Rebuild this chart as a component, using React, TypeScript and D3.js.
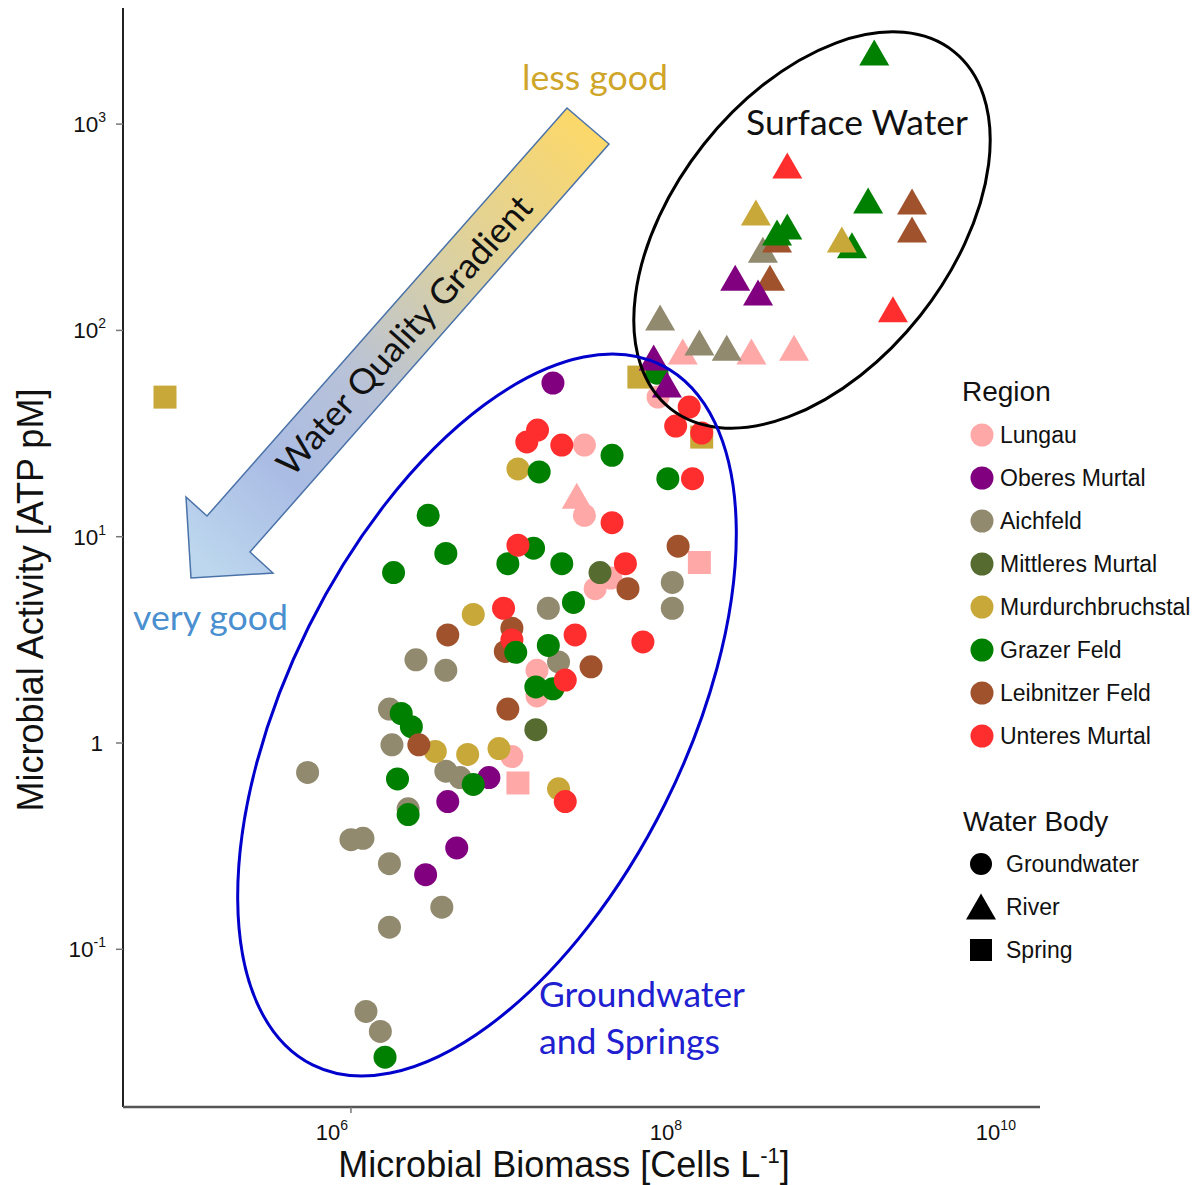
import React from 'react';
import * as d3 from 'd3';

// regions and their colours (legend order)
const regions = [
  'Lungau',
  'Oberes Murtal',
  'Aichfeld',
  'Mittleres Murtal',
  'Murdurchbruchstal',
  'Grazer Feld',
  'Leibnitzer Feld',
  'Unteres Murtal',
];
const regionColors = ['#FFA8A8', '#800080', '#918A6F', '#556B2F', '#C9A83A', '#008000', '#A0522D', '#FF2E2E'];
const waterBodies = ['Groundwater', 'River', 'Spring'];

// [region, biomass (cells/L), ATP (pM)]
const springs: [string, number, number][] = [
  ['Murdurchbruchstal', 7.7e4, 47.5],
  ['Murdurchbruchstal', 5.3e7, 59.4],
  ['Murdurchbruchstal', 1.26e8, 30.4],
  ['Lungau', 1.22e8, 7.5],
  ['Lungau', 1.0e7, 0.64],
];

const groundwater: [string, number, number][] = [
  ['Lungau', 6.9e7, 47.5],
  ['Lungau', 2.5e7, 27.8],
  ['Lungau', 2.5e7, 12.7],
  ['Lungau', 3.6e7, 6.3],
  ['Lungau', 2.9e7, 5.6],
  ['Lungau', 1.3e7, 2.25],
  ['Lungau', 1.3e7, 1.69],
  ['Lungau', 9.2e6, 0.86],
  ['Oberes Murtal', 1.62e7, 55.6],
  ['Oberes Murtal', 6.7e6, 0.68],
  ['Oberes Murtal', 3.8e6, 0.52],
  ['Oberes Murtal', 4.3e6, 0.31],
  ['Oberes Murtal', 2.8e6, 0.23],
  ['Aichfeld', 8.4e7, 6.0],
  ['Aichfeld', 8.4e7, 4.5],
  ['Aichfeld', 1.52e7, 4.5],
  ['Aichfeld', 1.75e7, 2.47],
  ['Aichfeld', 2.45e6, 2.53],
  ['Aichfeld', 3.7e6, 2.25],
  ['Aichfeld', 1.7e6, 1.46],
  ['Aichfeld', 1.76e6, 0.98],
  ['Aichfeld', 5.5e5, 0.72],
  ['Aichfeld', 3.7e6, 0.73],
  ['Aichfeld', 4.5e6, 0.68],
  ['Aichfeld', 2.2e6, 0.48],
  ['Aichfeld', 1.0e6, 0.34],
  ['Aichfeld', 1.18e6, 0.345],
  ['Aichfeld', 1.7e6, 0.26],
  ['Aichfeld', 3.5e6, 0.16],
  ['Aichfeld', 1.7e6, 0.128],
  ['Aichfeld', 1.23e6, 0.05],
  ['Aichfeld', 1.5e6, 0.04],
  ['Mittleres Murtal', 3.1e7, 6.7],
  ['Mittleres Murtal', 1.28e7, 1.16],
  ['Murdurchbruchstal', 1.0e7, 21.3],
  ['Murdurchbruchstal', 5.4e6, 4.2],
  ['Murdurchbruchstal', 3.2e6, 0.91],
  ['Murdurchbruchstal', 5.0e6, 0.88],
  ['Murdurchbruchstal', 7.7e6, 0.94],
  ['Murdurchbruchstal', 1.75e7, 0.6],
  ['Grazer Feld', 6.8e7, 62],
  ['Grazer Feld', 3.66e7, 24.8],
  ['Grazer Feld', 1.34e7, 20.6],
  ['Grazer Feld', 7.9e7, 19.1],
  ['Grazer Feld', 2.9e6, 12.7],
  ['Grazer Feld', 3.7e6, 8.3],
  ['Grazer Feld', 1.8e6, 6.7],
  ['Grazer Feld', 1.24e7, 8.8],
  ['Grazer Feld', 8.7e6, 7.4],
  ['Grazer Feld', 1.83e7, 7.4],
  ['Grazer Feld', 2.15e7, 4.8],
  ['Grazer Feld', 1.52e7, 2.97],
  ['Grazer Feld', 1.28e7, 1.87],
  ['Grazer Feld', 1.62e7, 1.83],
  ['Grazer Feld', 2.0e6, 1.39],
  ['Grazer Feld', 2.3e6, 1.2],
  ['Grazer Feld', 1.9e6, 0.67],
  ['Grazer Feld', 5.4e6, 0.63],
  ['Grazer Feld', 2.2e6, 0.45],
  ['Grazer Feld', 1.6e6, 0.03],
  ['Leibnitzer Feld', 9.1e7, 9.0],
  ['Leibnitzer Feld', 4.56e7, 5.6],
  ['Leibnitzer Feld', 3.8e6, 3.34],
  ['Leibnitzer Feld', 9.2e6, 3.6],
  ['Leibnitzer Feld', 8.4e6, 2.78],
  ['Leibnitzer Feld', 2.74e7, 2.34],
  ['Leibnitzer Feld', 8.7e6, 1.46],
  ['Leibnitzer Feld', 2.55e6, 0.98],
  ['Unteres Murtal', 1.06e8, 42.5],
  ['Unteres Murtal', 8.8e7, 34.4],
  ['Unteres Murtal', 1.26e8, 31.8],
  ['Unteres Murtal', 1.31e7, 32.9],
  ['Unteres Murtal', 1.13e7, 28.8],
  ['Unteres Murtal', 1.83e7, 27.8],
  ['Unteres Murtal', 1.11e8, 19.1],
  ['Unteres Murtal', 3.66e7, 11.7],
  ['Unteres Murtal', 1.0e7, 9.1],
  ['Unteres Murtal', 4.4e7, 7.4],
  ['Unteres Murtal', 5.6e7, 3.09],
  ['Unteres Murtal', 8.2e6, 4.5],
  ['Unteres Murtal', 9.2e6, 3.16],
  ['Unteres Murtal', 2.2e7, 3.34],
  ['Unteres Murtal', 1.92e7, 2.02],
  ['Unteres Murtal', 1.92e7, 0.52],
  ['Grazer Feld', 9.7e6, 2.75],
];

const rivers: [string, number, number][] = [
  ['Lungau', 9.7e7, 78.6],
  ['Lungau', 2.5e8, 78.6],
  ['Lungau', 4.5e8, 82],
  ['Lungau', 2.25e7, 15.7],
  ['Aichfeld', 2.93e8, 245],
  ['Aichfeld', 7.1e7, 115],
  ['Aichfeld', 1.22e8, 87],
  ['Aichfeld', 1.78e8, 82],
  ['Murdurchbruchstal', 2.66e8, 371],
  ['Leibnitzer Feld', 2.29e9, 419],
  ['Leibnitzer Feld', 2.29e9, 307],
  ['Leibnitzer Feld', 3.56e8, 274],
  ['Leibnitzer Feld', 3.23e8, 179],
  ['Grazer Feld', 1.36e9, 2210],
  ['Grazer Feld', 1.25e9, 424],
  ['Grazer Feld', 4.1e8, 317],
  ['Grazer Feld', 3.56e8, 297],
  ['Grazer Feld', 1.0e9, 257],
  ['Murdurchbruchstal', 8.7e8, 274],
  ['Oberes Murtal', 2.0e8, 179],
  ['Oberes Murtal', 2.74e8, 152],
  ['Oberes Murtal', 6.5e7, 73.5],
  ['Oberes Murtal', 7.8e7, 54.4],
  ['Unteres Murtal', 4.1e8, 627],
  ['Unteres Murtal', 1.76e9, 126],
];

const xDomain = [4.315e4, 1.337e10];
const yDomain = [0.0172, 3655];
const xTicks = [1e6, 1e8, 1e10];
const xTickLabels = [['10', '6'], ['10', '8'], ['10', '10']];
const yTicks = [0.1, 1, 10, 100, 1000];
const yTickLabels = [['10', '-1'], ['1', ''], ['10', '1'], ['10', '2'], ['10', '3']];

const sans = '"Liberation Sans", Arial, sans-serif';
const calibri = 'Lato, "Open Sans", sans-serif';

const tri = (cx: number, cy: number, w = 30, h = 26) =>
  `M${cx},${cy - h / 2 - 0.5}L${cx + w / 2},${cy + h / 2 - 0.5}L${cx - w / 2},${cy + h / 2 - 0.5}Z`;

export default function App() {
  const left = 123, right = 1040, top = 8, bottom = 1107;
  const x = d3.scaleLog().domain(xDomain).range([left, right]);
  const y = d3.scaleLog().domain(yDomain).range([bottom, top]);
  const color = d3.scaleOrdinal<string, string>().domain(regions).range(regionColors);

  return (
    <svg width={1202} height={1185} style={{ position: 'absolute', left: 0, top: 0, background: '#fff' }}>
      <defs>
        <linearGradient id="arrowGrad" gradientUnits="userSpaceOnUse" x1="600" y1="120" x2="200" y2="560">
          <stop offset="0" stopColor="#FFD966" />
          <stop offset="0.35" stopColor="#DAD0A2" />
          <stop offset="0.6" stopColor="#B8C2D8" />
          <stop offset="0.8" stopColor="#AABCE4" />
          <stop offset="1" stopColor="#BDD7EE" />
        </linearGradient>
      </defs>

      {/* axes */}
      <line x1={left} x2={left} y1={top} y2={bottom} stroke="#222" strokeWidth={2} />
      <line x1={left} x2={right} y1={bottom} y2={bottom} stroke="#555" strokeWidth={2.5} />
      {yTicks.map((t, i) => (
        <g key={'yt' + i}>
          <line x1={left - 7} x2={left} y1={y(t)} y2={y(t)} stroke="#777" strokeWidth={1.5} />
          <text x={yTickLabels[i][1] ? 106 : 103} y={y(t) + 8} textAnchor="end" fontFamily={sans} fontSize={22.5} fill="#111">
            {yTickLabels[i][0]}
            {yTickLabels[i][1] && <tspan dy={-10} fontSize={14}>{yTickLabels[i][1]}</tspan>}
          </text>
        </g>
      ))}
      <line x1={x(xTicks[0])} x2={x(xTicks[0])} y1={bottom} y2={bottom + 6} stroke="#777" strokeWidth={1.5} />
      {xTicks.map((t, i) => (
        <text key={'xt' + i} x={x(t) - 3} y={1140} textAnchor="end" fontFamily={sans} fontSize={22} fill="#111">
          {xTickLabels[i][0]}
          <tspan dy={-10} fontSize={14}>{xTickLabels[i][1]}</tspan>
        </text>
      ))}
      <text x={564} y={1177} textAnchor="middle" fontFamily={sans} fontSize={36} fill="#111">
        Microbial Biomass [Cells L<tspan dy={-14} fontSize={22}>-1</tspan><tspan dy={14}>]</tspan>
      </text>
      <text transform="translate(43,600) rotate(-90)" textAnchor="middle" fontFamily={sans} fontSize={36} fill="#111">
        Microbial Activity [ATP pM]
      </text>

      {/* points */}
      {springs.map((d, i) => (
        <rect key={'s' + i} x={x(d[1]) - 11.5} y={y(d[2]) - 11.5} width={23} height={23} fill={color(d[0])} />
      ))}
      {groundwater.map((d, i) => (
        <circle key={'g' + i} cx={x(d[1])} cy={y(d[2])} r={11.5} fill={color(d[0])} />
      ))}
      {rivers.map((d, i) => (
        <path key={'r' + i} d={tri(x(d[1]), y(d[2]))} fill={color(d[0])} />
      ))}

      {/* annotation ellipses */}
      <ellipse cx={0} cy={0} rx={228} ry={138} transform="translate(812,230) rotate(-51.6)" fill="none" stroke="#000" strokeWidth={3} />
      <ellipse cx={0} cy={0} rx={391} ry={199} transform="translate(487,715) rotate(-63.5)" fill="none" stroke="#0000CC" strokeWidth={3} />

      {/* gradient arrow */}
      <polygon
        points="567,108 609,144 250,552 273,573 191,578 186,497 207,516"
        fill="url(#arrowGrad)"
        stroke="#4A72A8"
        strokeWidth={1.5}
        strokeLinejoin="miter"
      />
      <text
        transform="translate(403,334) rotate(-48)"
        textAnchor="middle"
        dominantBaseline="central"
        fontFamily={calibri}
        fontSize={35}
        textLength={362}
        lengthAdjust="spacingAndGlyphs"
        fill="#111"
      >
        Water Quality Gradient
      </text>
      <text x={522} y={90} fontFamily={calibri} fontSize={35} textLength={146} lengthAdjust="spacingAndGlyphs" fill="#CFA52A">
        less good
      </text>
      <text x={133} y={630} fontFamily={calibri} fontSize={35} textLength={155} lengthAdjust="spacingAndGlyphs" fill="#4A8FCF">
        very good
      </text>
      <text x={746} y={135} fontFamily={calibri} fontSize={35} textLength={222} lengthAdjust="spacingAndGlyphs" fill="#111">
        Surface Water
      </text>
      <text x={539} y={1007} fontFamily={calibri} fontSize={35} textLength={206} lengthAdjust="spacingAndGlyphs" fill="#2020D0">
        Groundwater
      </text>
      <text x={539} y={1054} fontFamily={calibri} fontSize={35} textLength={181} lengthAdjust="spacingAndGlyphs" fill="#2020D0">
        and Springs
      </text>

      {/* legend */}
      <text x={962} y={401} fontFamily={sans} fontSize={28} fill="#111">Region</text>
      {regions.map((r, i) => (
        <g key={'lr' + i} transform={`translate(0,${435 + i * 43})`}>
          <circle cx={982} cy={0} r={11.5} fill={color(r)} />
          <text x={1000} y={8} fontFamily={sans} fontSize={23} fill="#111">{r}</text>
        </g>
      ))}
      <text x={963} y={831} fontFamily={sans} fontSize={28} fill="#111">Water Body</text>
      {waterBodies.map((w, i) => (
        <g key={'lw' + i} transform={`translate(0,${864 + i * 43})`}>
          {i === 0 && <circle cx={981} cy={0} r={11} fill="#000" />}
          {i === 1 && <path d={tri(981, 0)} fill="#000" />}
          {i === 2 && <rect x={970} y={-11} width={22} height={22} fill="#000" />}
          <text x={1006} y={8} fontFamily={sans} fontSize={23} fill="#111">{w}</text>
        </g>
      ))}
    </svg>
  );
}
